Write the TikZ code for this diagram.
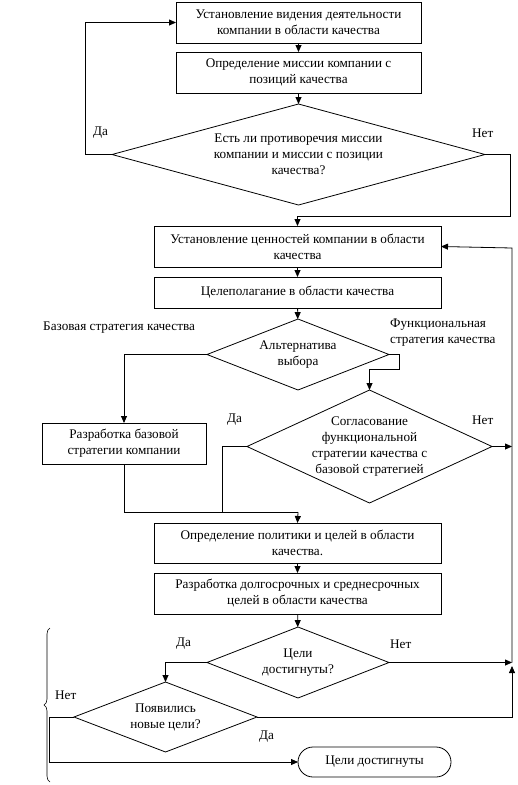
\documentclass[tikz,border=0pt]{standalone}
\usepackage{fontspec}
\setmainfont{Liberation Serif}
\usetikzlibrary{arrows.meta,shapes.geometric,decorations.pathreplacing}
\begin{document}
\begin{tikzpicture}[x=1pt,y=-1pt,
  txt/.style={font=\fontsize{13.2}{16}\selectfont},
  box/.style={draw,rectangle,line width=0.8pt,inner sep=0pt,outer sep=0pt,align=center,txt},
  dec/.style={draw,diamond,line width=0.8pt,inner sep=0pt,outer sep=0pt,align=center,txt},
  term/.style={draw,rectangle,rounded corners=15pt,line width=0.8pt,inner sep=0pt,outer sep=0pt,align=center,txt},
  conn/.style={draw,line width=0.8pt},
  arr/.style={conn,-{Triangle[length=7pt,width=6pt]}},
  lbl/.style={inner sep=0pt,align=left,txt}]
\useasboundingbox[fill=white] (0,0) rectangle (518,785);

% boxes
\node[box,minimum width=245,minimum height=41] (b1) at (298.5,22.5) {Установление видения деятельности\\компании в области качества};
\node[box,minimum width=245,minimum height=41] (b2) at (298.5,72.5) {Определение миссии компании с\\позиций качества};
\node[dec,aspect=3.7,minimum width=373,minimum height=101] (d1) at (298.5,154.5) {Есть ли противоречия миссии\\компании и миссии с позиции\\качества?};
\node[box,minimum width=287,minimum height=41] (b3) at (297.5,246.5) {Установление ценностей компании в области\\качества};
\node[box,minimum width=287,minimum height=31] (b4) at (297.5,292.5) {Целеполагание в области качества};
\node[dec,aspect=2.56,minimum width=182,minimum height=71] (d2) at (298,354.5) {Альтернатива\\выбора};
\node[dec,aspect=2.17,minimum width=245,minimum height=113] (d3) at (369.5,446.5) {Согласование\\функциональной\\стратегии качества с\\базовой стратегией};
\node[box,minimum width=164,minimum height=41] (b5) at (124,443.5) {Разработка базовой\\стратегии компании};
\node[box,minimum width=287,minimum height=40] (b6) at (297.5,543) {Определение политики и целей в области\\качества.};
\node[box,minimum width=287,minimum height=41] (b7) at (297.5,593.5) {Разработка долгосрочных и среднесрочных\\целей в области качества};
\node[dec,aspect=2.56,minimum width=182,minimum height=71] (d4) at (298,662.5) {Цели\\достигнуты?};
\node[dec,aspect=2.6,minimum width=183,minimum height=70] (d5) at (165.5,717) {Появились\\новые цели?};
\node[term,minimum width=153,minimum height=30] (t1) at (374.5,762) {Цели достигнуты};

% coordinates
\coordinate (cL1) at (85,154.5);
\coordinate (cR1) at (510,216);
\coordinate (cR) at (512,248);
\coordinate (cA) at (399,369);
\coordinate (cJ) at (298,512);
\coordinate (cN) at (512,446.5);
\coordinate (cN4) at (512,662.5);
\coordinate (cUp) at (512,666);
\coordinate (cL5) at (49,717);

% connectors
\draw[arr] (b1) -- (b2);
\draw[arr] (b2) -- (d1);
\draw[arr] (d1.west) -- (cL1) |- (b1.west);
\draw[arr] (d1.east) -| (cR1) -| (b3.north);
\draw[arr] (b3) -- (b4);
\draw[arr] (b4) -- (d2);
\draw[arr] (d2.west) -| (b5.north);
\draw[arr] (d2.east) -| (cA) -| (d3.north);
\draw[arr] (d3.east) -- (cN);
\draw[conn] (b5.south) |- (cJ);
\draw[conn] (d3.west) -| (222,512);
\draw[arr] (cJ) -- (b6.north);
\draw[arr] (b6) -- (b7);
\draw[arr] (b7) -- (d4);
\draw[arr] (d4.east) -- (cN4);
\draw[arr] (d4.west) -| (d5.north);
\draw[arr] (d5.east) -| (cUp);
\draw[arr] (cN4) -- (cR) -- (b3.east);
\draw[arr] (d5.west) -- (cL5) |- (t1.west);

% labels
\node[lbl,anchor=west] (lDa1) at (93,133) {Да};
\node[lbl,anchor=west] (lNet1) at (472,133) {Нет};
\node[lbl,anchor=west] (lBaz) at (43,328) {Базовая стратегия качества};
\node[lbl,anchor=north west] (lFun) at (390,319) {Функциональная\\стратегия качества};
\node[lbl,anchor=west] (lDa3) at (227,420) {Да};
\node[lbl,anchor=west] (lNet3) at (472,420) {Нет};
\node[lbl,anchor=west] (lDa4) at (176,644) {Да};
\node[lbl,anchor=west] (lNet4) at (390,644) {Нет};
\node[lbl,anchor=west] (lNet5) at (55,695) {Нет};
\node[lbl,anchor=west] (lDa5) at (259,737) {Да};

% brace
\draw[line width=0.6pt,decorate,decoration={brace,amplitude=6pt}] (50,782) -- (50,628);
\end{tikzpicture}
\end{document}
